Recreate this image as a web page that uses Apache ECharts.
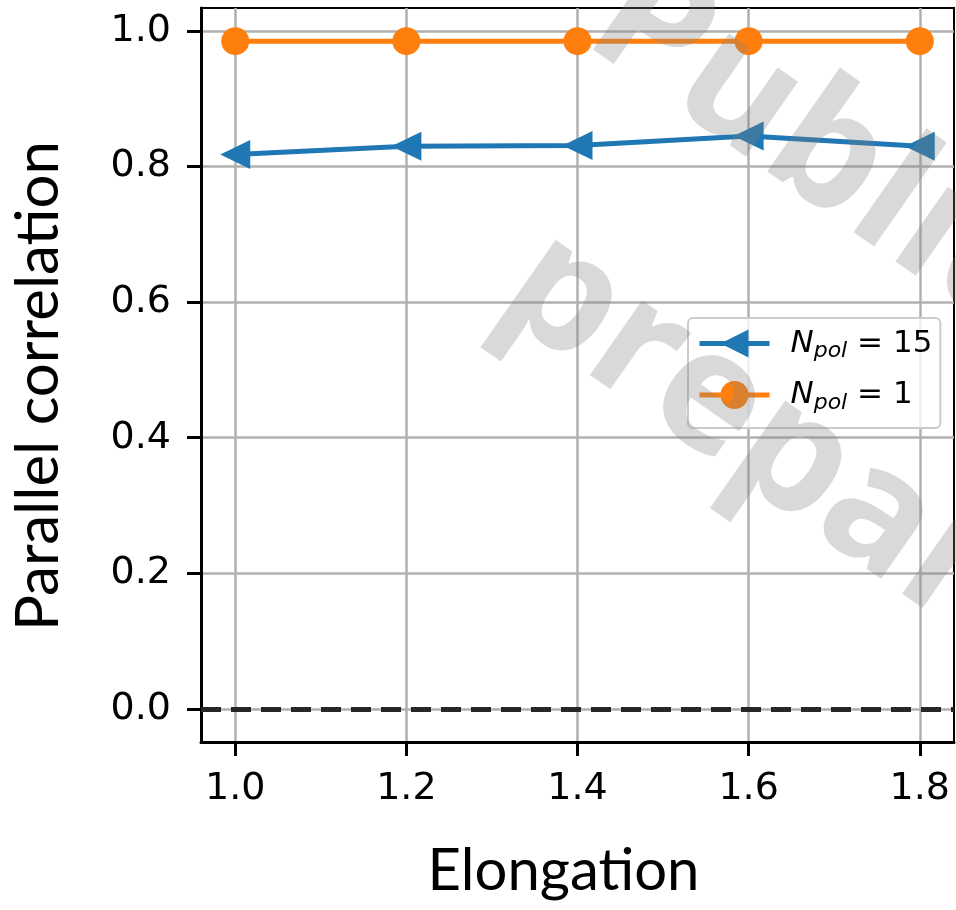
<!DOCTYPE html>
<html><head><meta charset="utf-8">
<script src="https://cdn.jsdelivr.net/npm/echarts@6/dist/echarts.min.js"></script>
<style>html,body{margin:0;padding:0;background:#fff}#c{width:956px;height:910px}</style>
</head><body><div id="c"></div>
<script>
const elongation = [1.0, 1.2, 1.4, 1.6, 1.8];
const corrNpol15 = [0.818, 0.830, 0.831, 0.845, 0.830];
const corrNpol1 = [0.985, 0.985, 0.985, 0.985, 0.985];
const npolLabels = ['15', '1'];
const xTicks = [1.0, 1.2, 1.4, 1.6, 1.8];
const yTicks = [0.0, 0.2, 0.4, 0.6, 0.8, 1.0];
const watermarkLines = ['Publication in', 'preparation'];

const chart = echarts.init(document.getElementById('c'), null, {renderer: 'canvas'});
const tickFont = 'DejaVu Sans';
const labelFont = 'Lato';

function pairs(xs, ys) { return xs.map((x, i) => [x, ys[i]]); }

const option = {
  animation: false,
  backgroundColor: '#ffffff',
  grid: {left: 201, top: 8, right: 2, bottom: 168, show: true, borderColor: '#000', borderWidth: 2,
         backgroundColor: 'transparent', containLabel: false, outerBoundsMode: 'none'},
  xAxis: {
    type: 'value', min: 0.96, max: 1.84,
    name: 'Elongation', nameLocation: 'middle', nameGap: 100,
    nameTextStyle: {fontFamily: labelFont, fontSize: 58, color: '#000', padding: [0, 28, 0, 0]},
    axisLine: {show: true, onZero: false, lineStyle: {color: '#000', width: 3}},
    axisTick: {show: true, length: 14, lineStyle: {color: '#000', width: 3}, customValues: xTicks},
    axisLabel: {customValues: xTicks, margin: 28, fontFamily: tickFont, fontSize: 38, color: '#000', formatter: v => v.toFixed(1)},
    splitLine: {show: true, lineStyle: {color: '#b0b0b0', width: 2.5}}
  },
  yAxis: {
    type: 'value', min: -0.049, max: 1.034,
    name: 'Parallel correlation', nameLocation: 'middle', nameRotate: 90, nameGap: 132,
    nameTextStyle: {fontFamily: labelFont, fontSize: 60, color: '#000', padding: [0, 22, 0, 0]},
    axisLine: {show: true, onZero: false, lineStyle: {color: '#000', width: 3}},
    axisTick: {show: true, length: 14, lineStyle: {color: '#000', width: 3}, customValues: yTicks},
    axisLabel: {customValues: yTicks, margin: 30, fontFamily: tickFont, fontSize: 38, color: '#000', formatter: v => v.toFixed(1)},
    splitLine: {show: true, lineStyle: {color: '#b0b0b0', width: 2.5}}
  },
  legend: {
    orient: 'vertical', left: 688, top: 318,
    itemWidth: 70, itemHeight: 35, itemGap: 17,
    padding: [10, 8, 14, 9],
    backgroundColor: 'rgba(255,255,255,0.8)', borderColor: '#cccccc', borderWidth: 2, borderRadius: 5,
    symbolRotate: 'inherit',
    lineStyle: {width: 5},
    formatter: name => {
      const v = name.split('= ')[1];
      return '{i|N}{s|pol}{r| = ' + v + '}';
    },
    textStyle: {
      padding: [0, 0, 0, 16],
      rich: {
        i: {fontFamily: tickFont, fontStyle: 'italic', fontSize: 31, color: '#000'},
        s: {fontFamily: tickFont, fontStyle: 'italic', fontSize: 22, color: '#000', padding: [16, 0, 0, 0]},
        r: {fontFamily: tickFont, fontSize: 31, color: '#000'}
      }
    },
    data: npolLabels.map(v => 'N_pol = ' + v)
  },
  series: [
    {
      name: 'N_pol = ' + npolLabels[0], type: 'line',
      data: pairs(elongation, corrNpol15),
      symbol: 'triangle', symbolRotate: 90, symbolSize: [29, 30],
      lineStyle: {color: '#1f77b4', width: 5},
      itemStyle: {color: '#1f77b4'},
      z: 3,
      markLine: {
        silent: true, symbol: ['none', 'none'], label: {show: false},
        lineStyle: {color: '#262626', width: 5, type: [20, 10]},
        data: [{yAxis: 0}]
      }
    },
    {
      name: 'N_pol = ' + npolLabels[1], type: 'line',
      data: pairs(elongation, corrNpol1),
      symbol: 'circle', symbolSize: 28,
      lineStyle: {color: '#ff7f0e', width: 5},
      itemStyle: {color: '#ff7f0e'},
      z: 4
    }
  ],
  graphic: [
    {type: 'text', x: 608, y: 2, rotation: -35 * Math.PI / 180, z: 100, silent: true,
     style: {text: watermarkLines[0], font: 'bold 167px "Open Sans"', fill: 'rgba(128,128,128,0.3)', textAlign: 'left', textVerticalAlign: 'middle'}},
    {type: 'text', x: 520, y: 268, rotation: -35 * Math.PI / 180, z: 100, silent: true,
     style: {text: watermarkLines[1], font: 'bold 167px "Open Sans"', fill: 'rgba(128,128,128,0.3)', textAlign: 'left', textVerticalAlign: 'middle'}}
  ]
};
chart.setOption(option);
</script>
</body></html>
